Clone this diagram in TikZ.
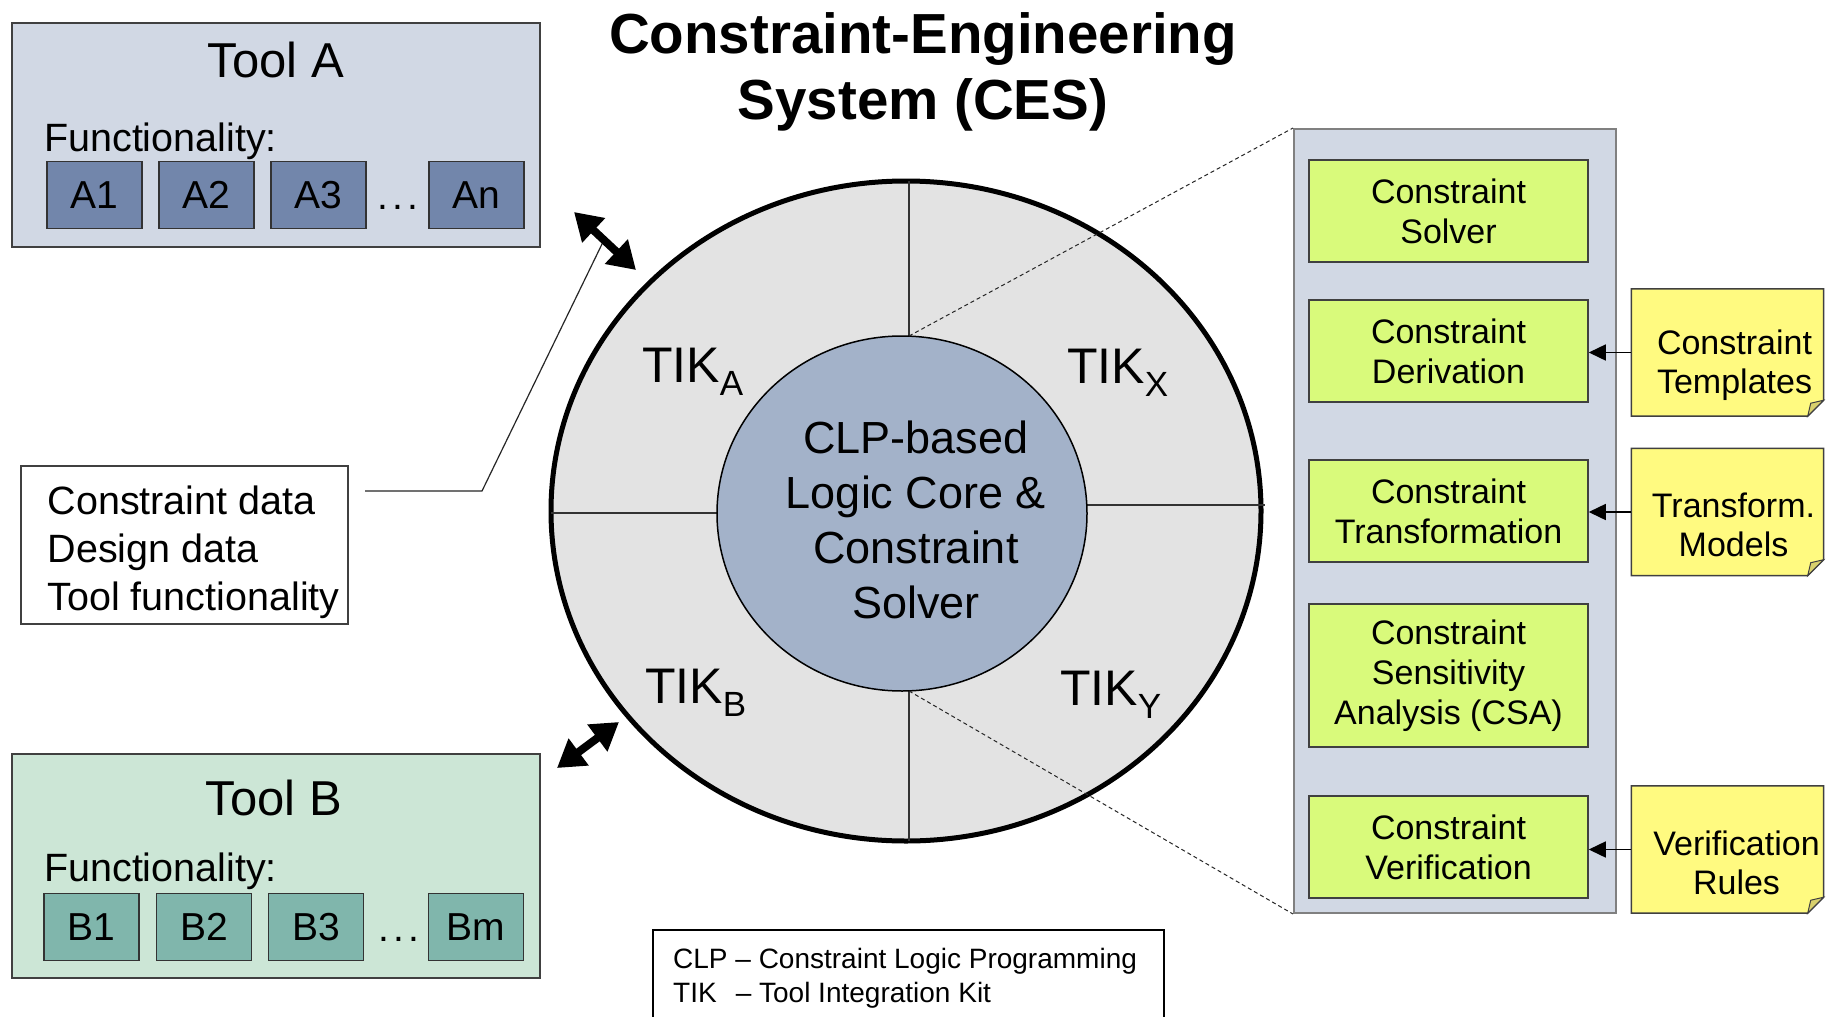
\documentclass[tikz,border=0pt]{standalone}
\usepackage{fontspec}
\setmainfont{Liberation Sans}
\usetikzlibrary{arrows.meta,shapes.geometric,backgrounds}
\definecolor{toolAbg}{HTML}{D1D8E4}
\definecolor{aBox}{HTML}{7286AB}
\definecolor{toolBbg}{HTML}{CCE6D6}
\definecolor{bBox}{HTML}{80B6AC}
\definecolor{ringFill}{HTML}{E3E3E3}
\definecolor{coreFill}{HTML}{A3B2C9}
\definecolor{panelFill}{HTML}{D1D8E4}
\definecolor{greenFill}{HTML}{D9FA7B}
\definecolor{noteFill}{HTML}{FFFA80}
\definecolor{foldFill}{HTML}{D8D06C}
\newcommand\fsz[2]{\fontsize{#1pt}{#2pt}\selectfont}
\newcommand\foldnote[1]{%
  \begin{pgfonlayer}{background}
  \draw[draw=black!75, line width=1.5pt, fill=noteFill] (#1.north west) -- (#1.north east) -- ([yshift=16pt]#1.south east) -- ([xshift=-16pt]#1.south east) -- (#1.south west) -- cycle;
  \draw[draw=black!75, line width=1pt, fill=foldFill] ([yshift=16pt]#1.south east) -- ([xshift=-16pt]#1.south east) -- ([xshift=-13pt,yshift=13pt]#1.south east) -- cycle;
  \end{pgfonlayer}}
\newcommand\spdots{.\hspace{4.5pt}.\hspace{4.5pt}.}
\begin{document}
\begin{tikzpicture}[x=1pt,y=-1pt,
  toolbox/.style={draw=black!75, line width=1.5pt, minimum width=528pt, minimum height=224pt, inner sep=0pt},
  funcbox/.style={draw=black!80, line width=1.2pt, minimum width=95pt, minimum height=67pt, inner sep=0pt, font=\fsz{39}{46}},
  plaintext/.style={inner sep=0pt},
  greenbox/.style={draw=black!75, line width=1.5pt, fill=greenFill, minimum width=279pt, inner sep=0pt, align=center, font=\fsz{34}{40}},
  notebox/.style={minimum width=192pt, minimum height=127pt, inner sep=0pt},
  notetext/.style={inner sep=0pt, align=center, font=\fsz{34}{39}},
  tiklabel/.style={anchor=base west, inner sep=0pt, font=\fsz{50}{60}},
  divider/.style={draw=black!80, line width=1.5pt},
  zoomline/.style={draw=black!85, line width=1pt, dash pattern=on 4pt off 3pt},
  dblarrow/.style={line width=8pt, {Triangle[length=27pt,width=32pt]}-{Triangle[length=27pt,width=32pt]}},
  notearrow/.style={line width=1.5pt, -{Triangle[length=17pt,width=16pt]}},
  thinline/.style={draw=black!85, line width=1.2pt}
]
\begin{pgfonlayer}{background}
\fill[white] (0,0) rectangle (1836,1017);
\end{pgfonlayer}
\useasboundingbox (0,0) rectangle (1836,1017);

% Title
\node[anchor=north, align=center, inner sep=0pt, font=\bfseries\fsz{56.5}{66}] (title) at (923,12) {Constraint-Engineering\\System (CES)};

% Tool A
\node[toolbox, fill=toolAbg] (toolA) at (276,135) {};
\node[anchor=base, plaintext, font=\fsz{49}{58}] (toolAtitle) at (276,77) {Tool A};
\node[anchor=base west, plaintext, font=\fsz{39.5}{46}] (funcA) at (44,151) {Functionality:};
\node[funcbox, fill=aBox] (A1) at (94.5,195) {A1};
\node[funcbox, fill=aBox] (A2) at (206.5,195) {A2};
\node[funcbox, fill=aBox] (A3) at (318.5,195) {A3};
\node[anchor=base, plaintext, font=\fsz{39}{46}] (dotsA) at (398,209) {\spdots};
\node[funcbox, fill=aBox] (An) at (476.5,195) {An};

% Tool B
\node[toolbox, fill=toolBbg] (toolB) at (276,866) {};
\node[anchor=base, plaintext, font=\fsz{49}{58}] (toolBtitle) at (274,815) {Tool B};
\node[anchor=base west, plaintext, font=\fsz{39.5}{46}] (funcB) at (44,881) {Functionality:};
\node[funcbox, fill=bBox] (B1) at (91.5,927) {B1};
\node[funcbox, fill=bBox] (B2) at (204,927) {B2};
\node[funcbox, fill=bBox] (B3) at (316,927) {B3};
\node[anchor=base, plaintext, font=\fsz{39}{46}] (dotsB) at (399,941) {\spdots};
\node[funcbox, fill=bBox] (Bm) at (476,927) {Bm};

% Data note
\node[draw=black!75, line width=1.2pt, minimum width=327pt, minimum height=158pt, inner sep=0pt] (data) at (184.5,545) {};
\node[anchor=west, align=left, plaintext, font=\fsz{39.5}{48}] (datatext) at ([xshift=27pt,yshift=-7pt]data.west) {Constraint data\\Design data\\Tool functionality};
\coordinate (lineStart) at (365,491);
\coordinate (lineBend) at (482,491);
\coordinate (lineEnd) at (603,242);
\draw[thinline] (lineStart) -- (lineBend) -- (lineEnd);

% Ring
\node[ellipse, draw=black, line width=5pt, fill=ringFill, minimum width=710pt, minimum height=660pt, inner sep=0pt] (ring) at (906,511) {};
\coordinate (coreTop) at (909,336);
\coordinate (coreBot) at (909,691);
\draw[divider] (909,181) -- (coreTop);
\draw[divider] (909,841) -- (coreBot);
\draw[divider] (551,513) -- (717,513);
\draw[divider] (1087,505) -- (1265,505);
\node[ellipse, draw=black, line width=1.5pt, fill=coreFill, minimum width=370pt, minimum height=355pt, inner sep=0pt] (core) at (902,513.5) {};
\node[anchor=north, align=center, plaintext, font=\fsz{45}{55}] (coretext) at (916,421) {CLP-based\\Logic Core \&\\Constraint\\Solver};

\node[tiklabel] (tikA) at (642,382) {TIK\raisebox{-13pt}{\fsz{35}{40}A}};
\node[tiklabel] (tikX) at (1067,383) {TIK\raisebox{-13pt}{\fsz{35}{40}X}};
\node[tiklabel] (tikB) at (645,703) {TIK\raisebox{-13pt}{\fsz{35}{40}B}};
\node[tiklabel] (tikY) at (1060,705) {TIK\raisebox{-13pt}{\fsz{35}{40}Y}};

% Double arrows
\coordinate (aTop1) at (574,212);
\coordinate (aTop2) at (636,270);
\coordinate (aBot1) at (557,768);
\coordinate (aBot2) at (619,722);
\draw[dblarrow] (aTop1) -- (aTop2);
\draw[dblarrow] (aBot1) -- (aBot2);

% Panel
\node[draw=black!50, line width=2pt, fill=panelFill, minimum width=322pt, minimum height=784pt, inner sep=0pt] (panel) at (1455,521) {};
\draw[zoomline] (coreTop) -- (panel.north west);
\draw[zoomline] (coreBot) -- (panel.south west);

\node[greenbox, minimum height=102pt] (solver) at (1448.5,211) {Constraint\\Solver};
\node[greenbox, minimum height=102pt] (deriv) at (1448.5,351) {Constraint\\Derivation};
\node[greenbox, minimum height=102pt] (transf) at (1448.5,511) {Constraint\\Transformation};
\node[greenbox, minimum height=143pt] (csa) at (1448.5,675.5) {Constraint\\Sensitivity\\Analysis (CSA)};
\node[greenbox, minimum height=102pt] (verif) at (1448.5,847) {Constraint\\Verification};

% Notes
\node[notebox] (tmpl) at (1727.5,352.5) {};
\foldnote{tmpl}
\node[notetext] (tmpltext) at ([xshift=7pt,yshift=-13pt]tmpl.center) {Constraint\\Templates};
\node[notebox] (tmodels) at (1727.5,512) {};
\foldnote{tmodels}
\node[notetext] (tmodelstext) at ([xshift=6pt,yshift=-13pt]tmodels.center) {Transform.\\Models};
\node[notebox] (vrules) at (1727.5,849.5) {};
\foldnote{vrules}
\node[notetext] (vrulestext) at ([xshift=9pt,yshift=-13pt]vrules.center) {Verification\\Rules};
\draw[notearrow] (tmpl.west) -- (tmpl.west -| deriv.east);
\draw[notearrow] (tmodels.west) -- (tmodels.west -| transf.east);
\draw[notearrow] (vrules.west) -- (vrules.west -| verif.east);

% Legend
\node[draw=black, line width=2pt, minimum width=511pt, minimum height=130pt, anchor=north west, inner sep=0pt] (legend) at (652,929) {};
\node[anchor=north west, align=left, plaintext, font=\fsz{28}{34}] (legendtext) at (673,947.5) {CLP -- Constraint Logic Programming\\TIK\hspace{19pt}-- Tool Integration Kit};
\end{tikzpicture}
\end{document}
